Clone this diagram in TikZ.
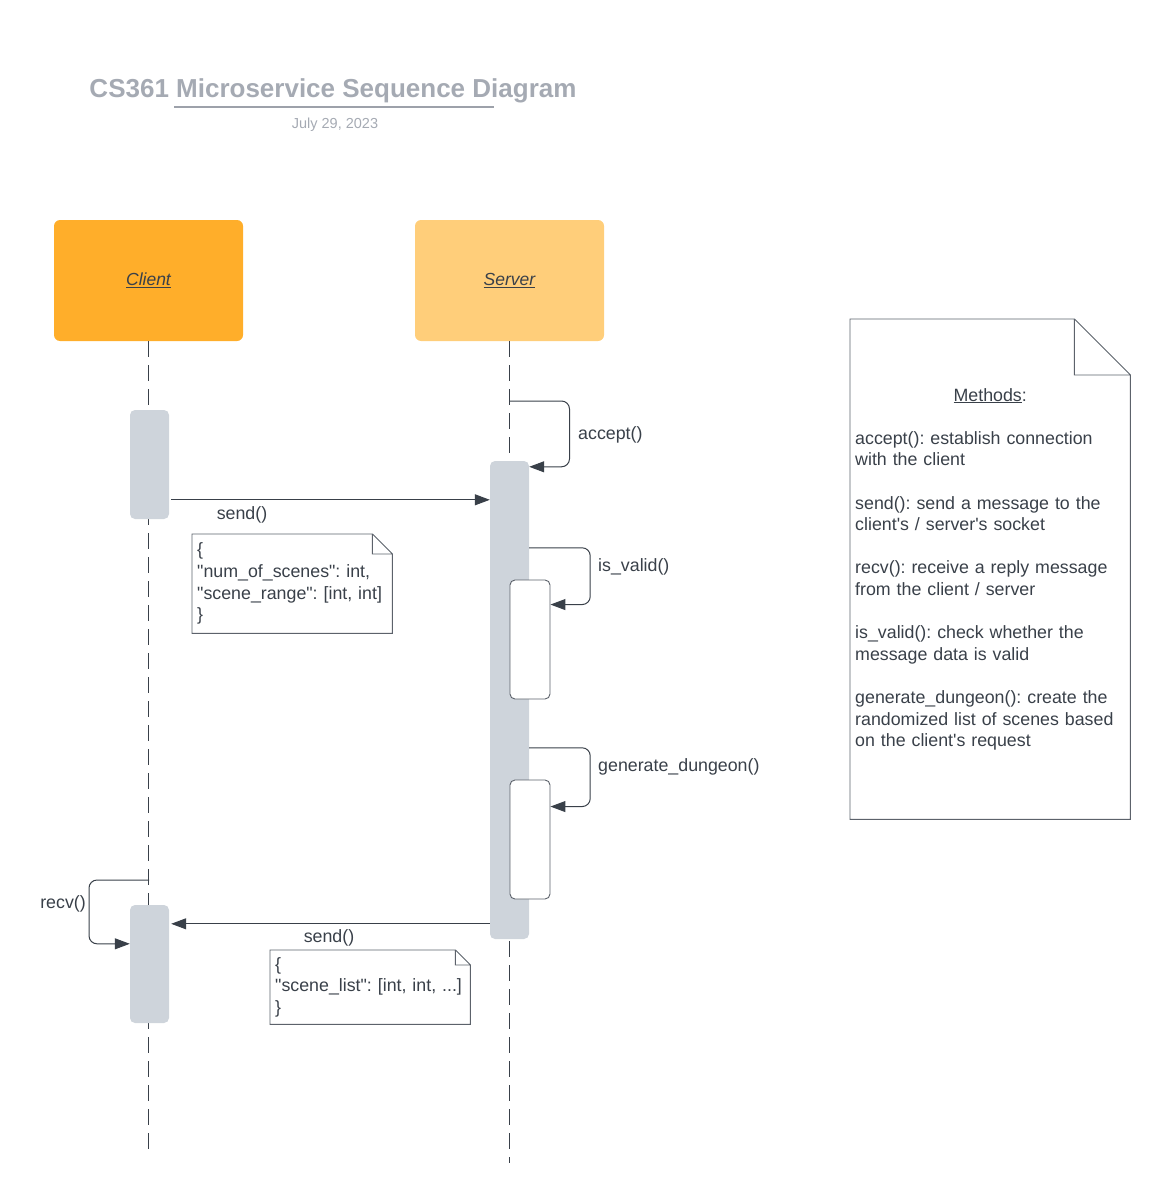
\documentclass[tikz,border=0pt]{standalone}
\usepackage{fontspec}
\setmainfont{Liberation Sans}
\usetikzlibrary{positioning, arrows.meta}
\frenchspacing
\definecolor{clientorange}{HTML}{FFAE2A}
\definecolor{serveryellow}{HTML}{FFCE7A}
\definecolor{actgray}{HTML}{CED4DB}
\definecolor{inkgray}{HTML}{394049}
\definecolor{titlegray}{HTML}{A5AAB3}
\definecolor{notegray}{HTML}{5C626B}

\begin{document}
\begin{tikzpicture}[x=1pt, y=-1pt,
                every node/.style={text=inkgray, font=\fontsize{17.8}{21.6}\selectfont},
                actor/.style={rectangle, rounded corners=6pt, minimum width=189pt, minimum height=121pt,
                              font=\fontsize{17.5}{21}\selectfont\itshape},
                bar/.style={rectangle, rounded corners=5pt, fill=actgray, minimum width=39pt},
                subbar/.style={rectangle, rounded corners=5pt, draw=notegray, line width=0.9pt, fill=white,
                               minimum width=40pt, minimum height=119pt},
                note/.style={align=left, inner sep=5pt, anchor=north west},
                lbl/.style={inner sep=2pt},
                life/.style={draw=inkgray, line width=0.9pt, dash pattern=on 16pt off 8pt},
                msg/.style={draw=inkgray, line width=1pt, rounded corners=8pt,
                            -{Triangle[length=15pt, width=11pt]}}
                ]
                \useasboundingbox (0,0) rectangle (1159,1193);

                % Title
                \node[text=titlegray, font=\fontsize{26}{30}\selectfont\bfseries] (title) at (333,91) {CS361 Microservice Sequence Diagram};
                \node[text=titlegray, font=\fontsize{14.5}{17}\selectfont] (date) at (335,124.5) {July 29, 2023};
                \draw[titlegray!95!black, line width=1.6pt] (174,107) -- (494,107);

                % Define the actors and lifelines
                \node[actor, fill=clientorange] (client) at (148.5,280.5) {\underline{Client}};
                \node[actor, fill=serveryellow] (server) at (509.5,280.5) {\underline{Server}};
                \coordinate (client end) at (148.5,1153);
                \coordinate (server end) at (509.5,1163);
                \draw[life] (client.south) -- (client end);
                \draw[life] (server.south) -- (server end);

                % Define the activations
                \node[bar, minimum height=109pt] (ca1) at (149.5,464.5) {};
                \node[bar, minimum height=478pt] (sa) at (509.5,700) {};
                \node[subbar] (v1) at (530,639.5) {};
                \node[subbar] (v2) at (530,839.5) {};
                \node[bar, minimum height=118pt] (ca2) at (149.5,964) {};

                % Define the notes
                \node[note, text width=190pt, minimum height=99pt] (n1) at (192,534)
                    {\{\\\textquotedbl num\_of\_scenes\textquotedbl: int,\\\textquotedbl scene\_range\textquotedbl: [int, int]\\\}};
                \node[note, text width=190pt, minimum height=74pt] (n2) at (270,950)
                    {\{\\\textquotedbl scene\_list\textquotedbl: [int, int, ...]\\\}};
                \node[note, text width=270pt, minimum height=500pt] (methods) at (850,319)
                    {\makebox[270pt]{\underline{Methods}:}\\[21.6pt]
                     accept(): establish connection\\
                     with the client\\[21.6pt]
                     send(): send a message to the\\
                     client\textquotesingle s / server\textquotesingle s socket\\[21.6pt]
                     recv(): receive a reply message\\
                     from the client / server\\[21.6pt]
                     is\_valid(): check whether the\\
                     message data is valid\\[21.6pt]
                     generate\_dungeon(): create the\\
                     randomized list of scenes based\\
                     on the client\textquotesingle s request};
                \foreach \n/\f in {n1/20, n2/15, methods/56}
                    \draw[notegray, line width=0.9pt] (\n.north west) -- ([xshift=-\f pt]\n.north east)
                        -- ([yshift=-\f pt]\n.north east) -- (\n.south east) -- (\n.south west) -- cycle
                        ([xshift=-\f pt]\n.north east) |- ([yshift=-\f pt]\n.north east);

                % Draw the arrows
                \coordinate (acc) at (509.5,401);
                \draw[msg] (acc) -- ++(60,0) |- ([yshift=-6pt]sa.north east);
                \draw[msg, shorten <=2pt] ([yshift=-90pt]ca1.north east) coordinate (s1) -- (s1 -| sa.west);
                \draw[msg] ([yshift=-87pt]sa.north east) -- ++(61,0) |- ([yshift=-25pt]v1.north east);
                \draw[msg] ([yshift=-287pt]sa.north east) -- ++(61,0) |- ([yshift=-27pt]v2.north east);
                \draw[msg, shorten >=2pt] ([yshift=-463pt]sa.north west) coordinate (s2) -- (s2 -| ca2.east);
                \coordinate (rcv) at (149,880);
                \draw[msg] (rcv) -- ++(-60,0) |- ([yshift=-39pt]ca2.north west);

                % Labels
                \node[lbl, anchor=west] (accept lbl) at (576,435) {accept()};
                \node[lbl] (send lbl) at (242,515) {send()};
                \node[lbl, anchor=west] (valid lbl) at (596,567) {is\_valid()};
                \node[lbl, anchor=west] (gen lbl) at (596,767) {generate\_dungeon()};
                \node[lbl] (reply lbl) at (329,938) {send()};
                \node[lbl, anchor=east] (recv lbl) at (88,904) {recv()};
            \end{tikzpicture}
\end{document}
